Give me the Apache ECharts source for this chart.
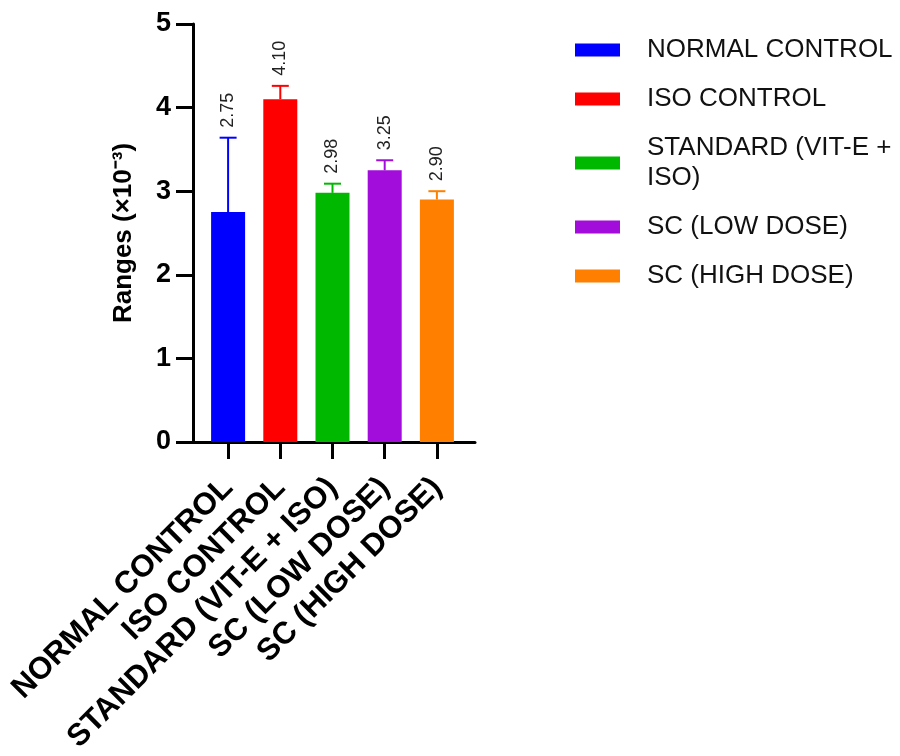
<!DOCTYPE html>
<html>
<head>
<meta charset="utf-8">
<script src="https://cdn.jsdelivr.net/npm/echarts@6/dist/echarts.min.js"></script>
<style>
html,body{margin:0;padding:0;background:#fff;}
#chart{width:900px;height:756px;}
</style>
</head>
<body>
<div id="chart"></div>
<script>
const categories = ['NORMAL CONTROL', 'ISO CONTROL', 'STANDARD (VIT-E + ISO)', 'SC (LOW DOSE)', 'SC (HIGH DOSE)'];
const legendNames = ['NORMAL CONTROL', 'ISO CONTROL', 'STANDARD (VIT-E +\nISO)', 'SC (LOW DOSE)', 'SC (HIGH DOSE)'];
const means = [2.75, 4.10, 2.98, 3.25, 2.90];
const errors = [0.89, 0.16, 0.11, 0.12, 0.10];
const valueLabels = ['2.75', '4.10', '2.98', '3.25', '2.90'];
const yTicks = [0, 1, 2, 3, 4, 5];
const colors = ['#0000FF', '#FF0000', '#00B800', '#A20DDC', '#FF8000'];

const FONT = "'Liberation Sans', Arial, Helvetica, sans-serif";
const chart = echarts.init(document.getElementById('chart'), null, {renderer: 'canvas'});

const barSeries = categories.map((c, i) => ({
  name: c,
  type: 'bar',
  xAxisIndex: 1,
  yAxisIndex: 1,
  barWidth: 34,
  barGap: '-100%',
  itemStyle: {color: colors[i]},
  data: categories.map((_, j) => (j === i ? means[i] : '-')),
  z: 2
}));

const errSeries = {
  type: 'custom',
  xAxisIndex: 1,
  yAxisIndex: 1,
  z: 3,
  data: categories.map((c, i) => [i, means[i], errors[i]]),
  renderItem: function (params, api) {
    const i = api.value(0);
    const m = api.value(1);
    const e = api.value(2);
    const base = api.coord([i, m]);
    const top = api.coord([i, m + e]);
    const half = 8.5;
    const col = colors[params.dataIndex];
    return {
      type: 'group',
      children: [
        {type: 'line', shape: {x1: top[0], y1: base[1], x2: top[0], y2: top[1]}, style: {stroke: col, lineWidth: 2}},
        {type: 'line', shape: {x1: top[0] - half, y1: top[1], x2: top[0] + half, y2: top[1]}, style: {stroke: col, lineWidth: 2}},
        {type: 'text', x: top[0], y: top[1] - 10, rotation: Math.PI / 2,
          style: {text: valueLabels[params.dataIndex], fill: '#222', font: '18px ' + FONT,
            align: 'left', verticalAlign: 'middle', textAlign: 'left', textVerticalAlign: 'middle'}}
      ]
    };
  }
};

const option = {
  backgroundColor: '#fff',
  animation: false,
  grid: [
    {left: 193, top: 24, width: 282, height: 418},
    {left: 202, top: 24, width: 261, height: 418}
  ],
  legend: {
    orient: 'vertical',
    left: 570,
    top: 30,
    itemWidth: 45,
    itemHeight: 13,
    itemGap: 19,
    icon: 'rect',
    data: categories,
    formatter: function (name) { return legendNames[categories.indexOf(name)]; },
    textStyle: {fontFamily: FONT, fontSize: 26, color: '#111', lineHeight: 30, padding: [0, 0, 0, 22]},
    selectedMode: false
  },
  xAxis: [
    {
      type: 'value', gridIndex: 0, min: 0, max: 1,
      axisLine: {show: true, onZero: false, lineStyle: {color: '#000', width: 3}},
      axisTick: {show: false}, axisLabel: {show: false}, splitLine: {show: false}
    },
    {
      type: 'category', gridIndex: 1, data: categories,
      axisLine: {show: true, onZero: false, lineStyle: {color: '#000', width: 3}},
      axisTick: {show: true, alignWithLabel: true, length: 17, lineStyle: {color: '#000', width: 3}},
      axisLabel: {interval: 0, rotate: 45, margin: 41, color: '#000', fontFamily: FONT, fontSize: 31, fontWeight: 'bold'},
      splitLine: {show: false}
    }
  ],
  yAxis: [
    {
      type: 'value', gridIndex: 0, min: 0, max: 5, interval: 1,
      name: 'Ranges (×10⁻³)', nameLocation: 'middle', nameGap: 56, nameRotate: 90,
      nameTextStyle: {color: '#000', fontFamily: FONT, fontSize: 26, fontWeight: 'bold'},
      axisLine: {show: true, lineStyle: {color: '#000', width: 3}},
      axisTick: {show: true, length: 17, lineStyle: {color: '#000', width: 3}},
      axisLabel: {
        color: '#000', fontFamily: FONT, fontSize: 27, fontWeight: 'bold', margin: 22,
        formatter: function (v) { return yTicks.indexOf(v) >= 0 ? String(v) : ''; }
      },
      splitLine: {show: false}
    },
    {
      type: 'value', gridIndex: 1, min: 0, max: 5, interval: 1, show: false
    }
  ],
  series: barSeries.concat([errSeries])
};
chart.setOption(option);
</script>
</body>
</html>
